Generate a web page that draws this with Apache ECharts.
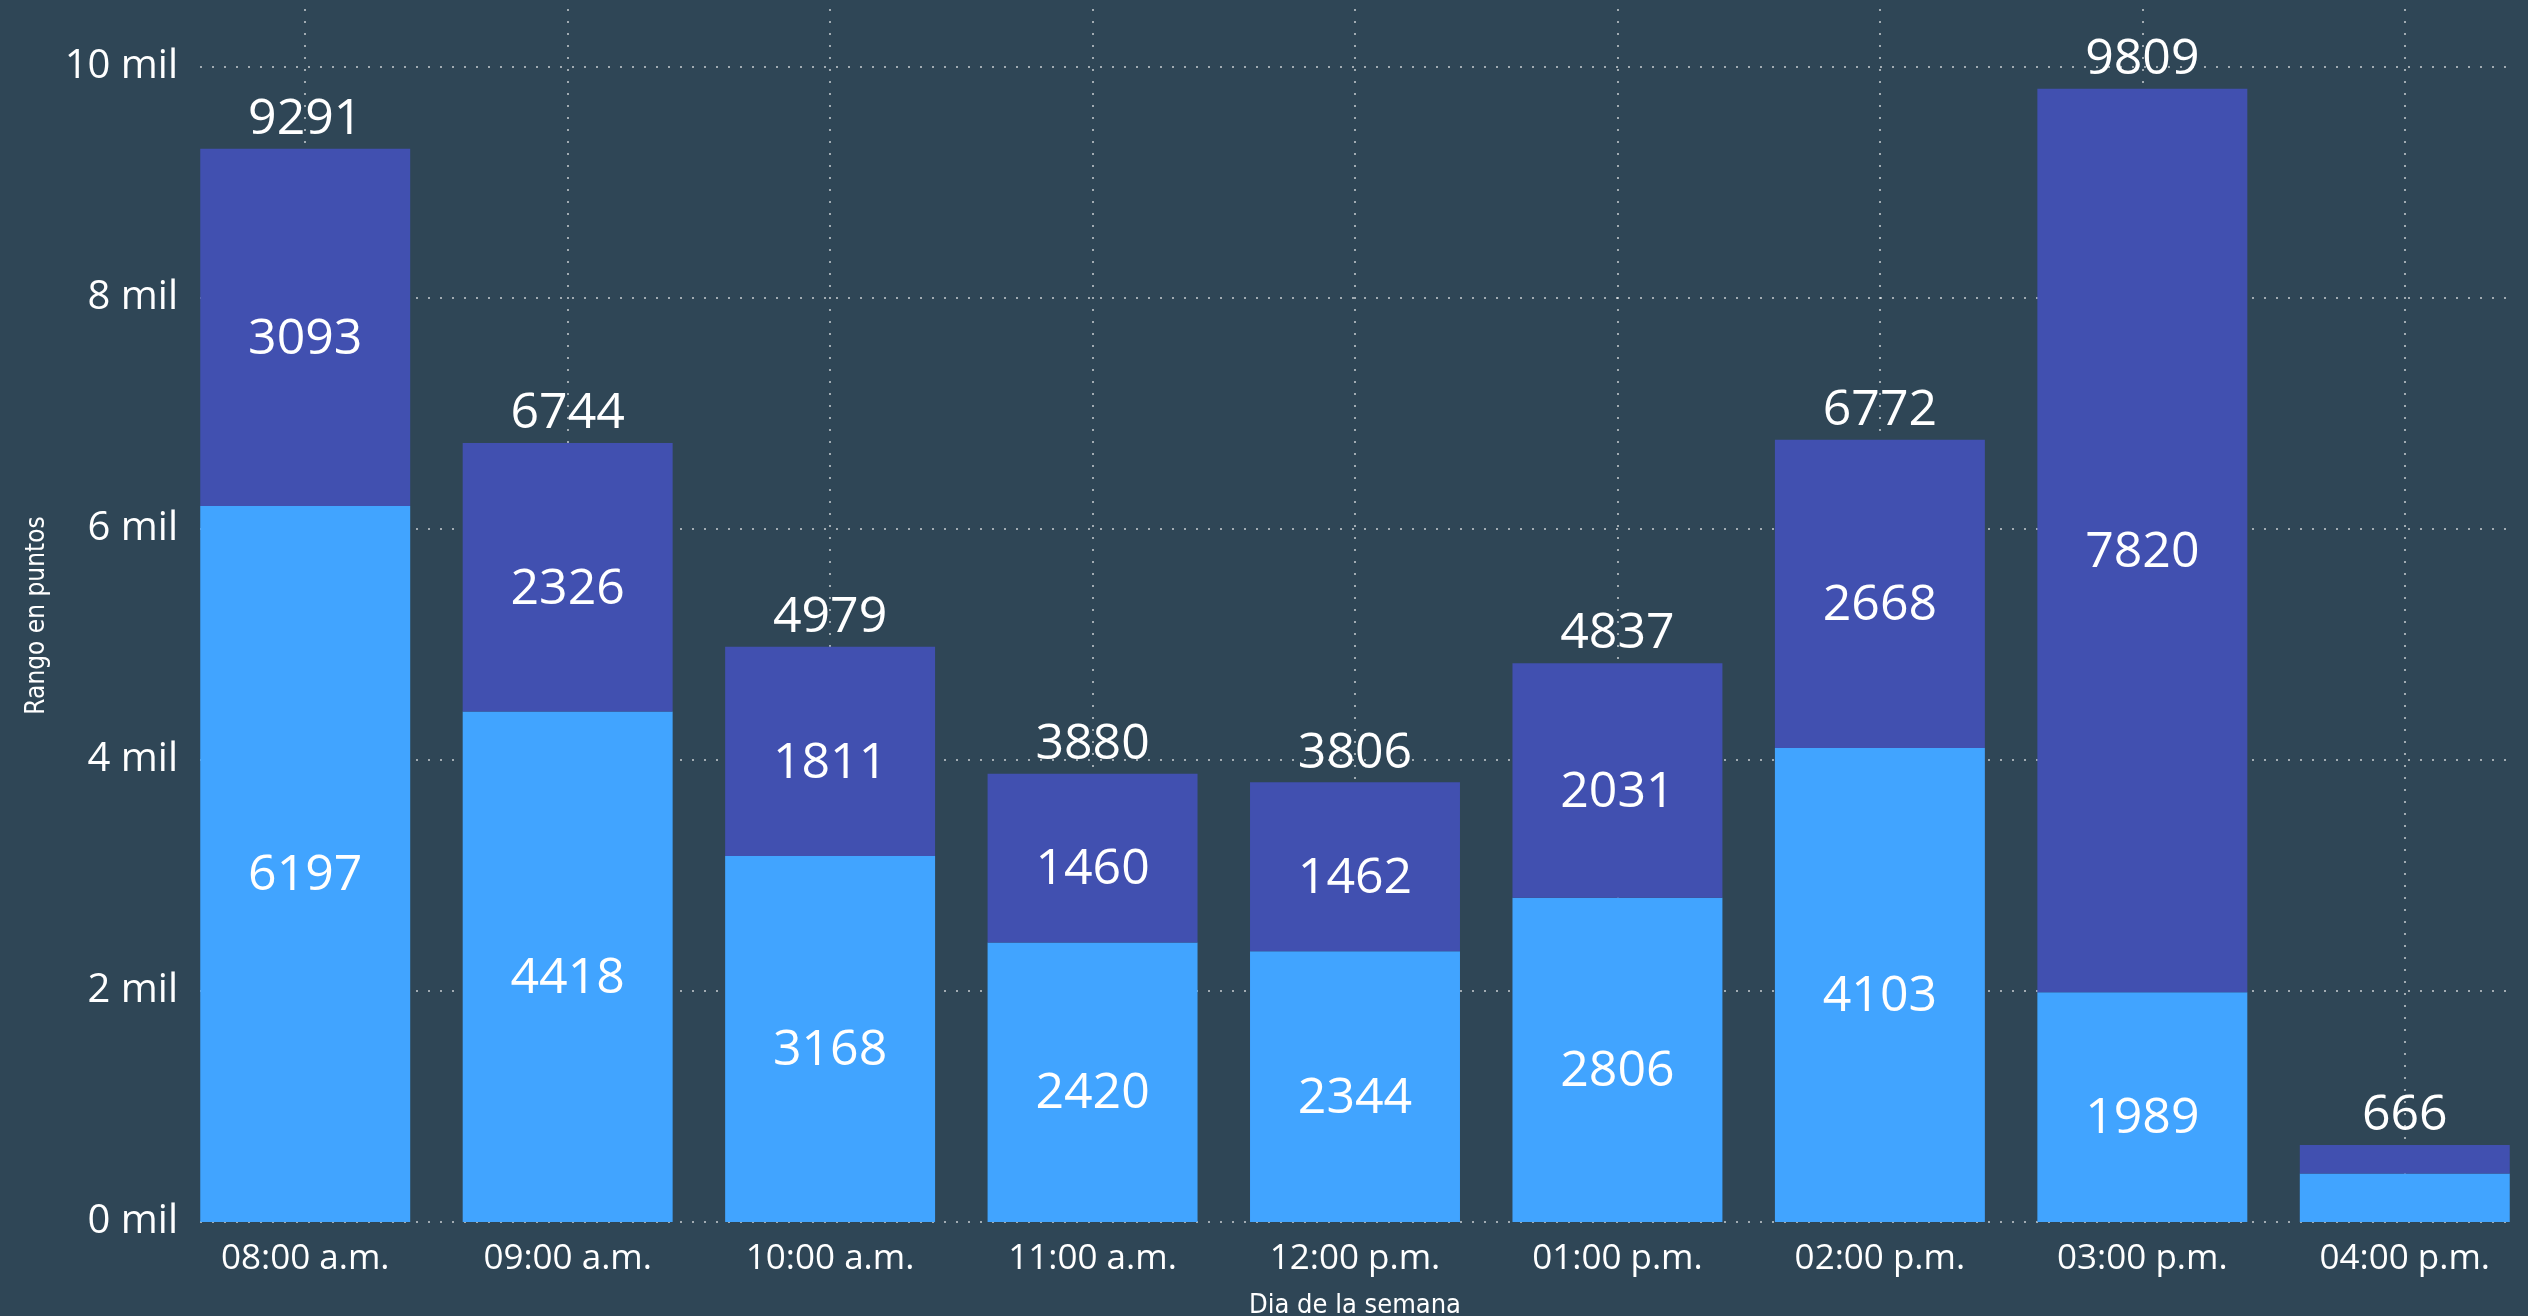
<!DOCTYPE html>
<html>
<head>
<meta charset="utf-8">
<script src="https://cdn.jsdelivr.net/npm/echarts@6/dist/echarts.min.js"></script>
<style>
  html, body { margin: 0; padding: 0; background: #2f4656; overflow: hidden; }
  #chart { width: 2528px; height: 1316px; }
</style>
</head>
<body>
<div id="chart"></div>
<script>
var hours = ['08:00 a.m.', '09:00 a.m.', '10:00 a.m.', '11:00 a.m.', '12:00 p.m.', '01:00 p.m.', '02:00 p.m.', '03:00 p.m.', '04:00 p.m.'];
var lowerVals = [6197, 4418, 3168, 2420, 2344, 2806, 4103, 1989, 420];
var upperVals = [3093, 2326, 1811, 1460, 1462, 2031, 2668, 7820, 246];
var totals = [9291, 6744, 4979, 3880, 3806, 4837, 6772, 9809, 666];
var tickMax = 10000;
var tickStep = 2000;

window.onload = function () {
  var chart = echarts.init(document.getElementById('chart'));
  var font = '"Open Sans", "Noto Sans", sans-serif';
  var nameFont = '"DejaVu Sans Condensed", "DejaVu Sans", sans-serif';
  var dotted = { color: 'rgba(255,255,255,0.55)', width: 2, type: [2, 10] };

  function inside(p) {
    return p.value >= 600 ? p.value : '';
  }

  var option = {
    backgroundColor: '#2f4656',
    animation: false,
    grid: [
      // bars + vertical lines; outer half-gaps fall outside the dotted frame like in Power BI
      { left: 174, width: 2362, top: 9, bottom: 94, containLabel: false, outerBoundsMode: 'none' },
      // horizontal lines + y labels
      { left: 200, width: 2310, top: 67, bottom: 94, containLabel: false, outerBoundsMode: 'none' }
    ],
    xAxis: [
      {
        type: 'category',
        gridIndex: 0,
        data: hours,
        axisLine: { show: false },
        axisTick: { show: false },
        splitLine: { show: true, alignWithLabel: true, interval: 0, lineStyle: dotted },
        axisLabel: { color: '#ffffff', fontSize: 35, fontFamily: font, margin: 20, interval: 0 },
        name: 'Dia de la semana',
        nameLocation: 'middle',
        nameGap: 70,
        nameTextStyle: { color: '#ffffff', fontSize: 27, fontFamily: nameFont }
      },
      { type: 'value', gridIndex: 1, show: false, min: 0, max: 1 }
    ],
    yAxis: [
      {
        type: 'value',
        gridIndex: 0,
        min: 0,
        max: 10500,
        axisLine: { show: false },
        axisTick: { show: false },
        axisLabel: { show: false },
        splitLine: { show: false },
        name: 'Rango en puntos',
        nameLocation: 'middle',
        nameGap: 124,
        nameRotate: 90,
        nameTextStyle: { color: '#ffffff', fontSize: 26, fontFamily: nameFont }
      },
      {
        type: 'value',
        gridIndex: 1,
        min: 0,
        max: tickMax,
        interval: tickStep,
        axisLine: { show: false },
        axisTick: { show: false },
        splitLine: { show: true, lineStyle: dotted },
        axisLabel: {
          color: '#ffffff', fontSize: 40, fontFamily: font, margin: 22,
          formatter: function (v) { return (v / 1000) + ' mil'; }
        }
      }
    ],
    series: [
      {
        name: 'bajo',
        type: 'bar',
        stack: 'rango',
        barWidth: '80%',
        itemStyle: { color: '#41a4ff' },
        label: { show: true, position: 'inside', offset: [0, 12], color: '#ffffff', fontSize: 50, fontFamily: font, formatter: inside },
        data: lowerVals
      },
      {
        name: 'alto',
        type: 'bar',
        stack: 'rango',
        barWidth: '80%',
        itemStyle: { color: '#4150b0' },
        label: { show: true, position: 'inside', offset: [0, 12], color: '#ffffff', fontSize: 50, fontFamily: font, formatter: inside },
        data: upperVals
      },
      {
        name: 'total',
        type: 'bar',
        stack: 'rango',
        barWidth: '80%',
        itemStyle: { color: 'transparent' },
        label: {
          show: true, position: 'top', distance: 4, color: '#ffffff', fontSize: 50, fontFamily: font,
          formatter: function (p) { return totals[p.dataIndex]; }
        },
        data: hours.map(function () { return 0; })
      }
    ]
  };
  chart.setOption(option);
};
</script>
</body>
</html>
